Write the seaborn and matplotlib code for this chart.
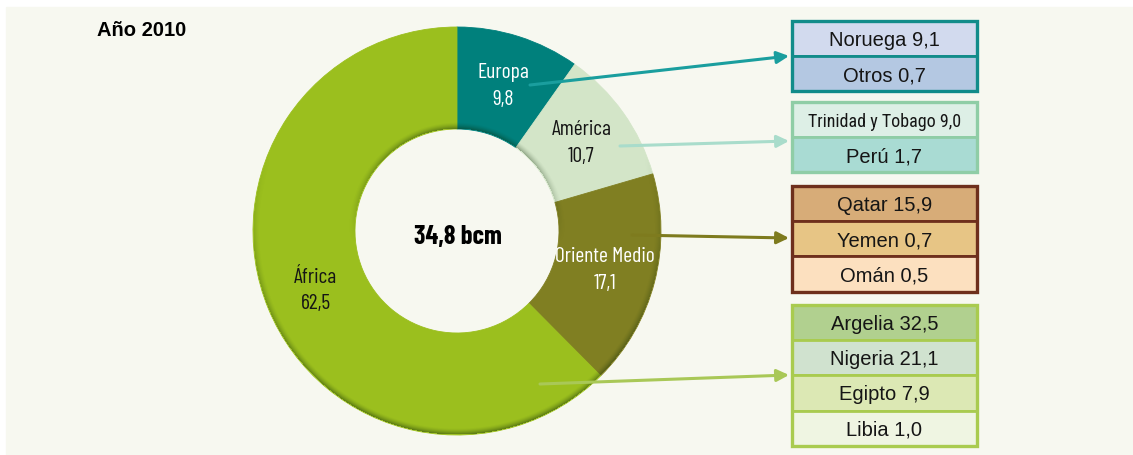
import numpy as np
import seaborn as sns
import matplotlib.pyplot as plt
from matplotlib import font_manager as fm
from matplotlib.patches import Rectangle

# ------------------------------
# DATA
# ------------------------------

year_label = "Año 2010"
total_label = "34,8 bcm"

regions = ["Europa", "América", "Oriente Medio", "África"]
region_values = [9.8, 10.7, 17.1, 62.5]

europa_countries = ["Noruega", "Otros"]
europa_values = [9.1, 0.7]
america_countries = ["Trinidad y Tobago", "Perú"]
america_values = [9.0, 1.7]
oriente_countries = ["Qatar", "Yemen", "Omán"]
oriente_values = [15.9, 0.7, 0.5]
africa_countries = ["Argelia", "Nigeria", "Egipto", "Libia"]
africa_values = [32.5, 21.1, 7.9, 1.0]

# ------------------------------
# STYLE
# ------------------------------

sns.set_theme(style="white")

names = {f.name for f in fm.fontManager.ttflist}
narrow = next((n for n in ["Saira Extra Condensed", "Barlow Condensed", "Roboto Condensed",
                           "Liberation Sans Narrow"] if n in names), "DejaVu Sans")
cond = "Roboto Condensed" if "Roboto Condensed" in names else narrow
plt.rcParams["font.family"] = ["Liberation Sans", "DejaVu Sans"]

region_colors = sns.color_palette(["#00807C", "#D3E5C8", "#807F22", "#9BBF1E"])
label_colors = ["white", "#151515", "white", "#151515"]
arrow_colors = ["#1A9E9E", "#A9DCCB", "#7E7B1E", "#A9C857"]
border_colors = ["#128C8A", "#8FCDA6", "#6E2F1C", "#A9CB4F"]
row_colors = [
    ["#D2DAEE", "#B4C8E2"],
    ["#DDEFE6", "#A9DBD3"],
    ["#D7AC78", "#E7C585", "#FCE0BF"],
    ["#B1D08F", "#D0E2CF", "#DCE8B4", "#EFF5E2"],
]

def fmt(v):
    return f"{v:.1f}".replace(".", ",")

# ------------------------------
# FIGURE
# ------------------------------

W, H = 1133, 456
fig = plt.figure(figsize=(W / 100, H / 100), dpi=100, facecolor="white")
ax = fig.add_axes([0, 0, 1, 1])
ax.add_patch(Rectangle((6, 8), W - 6, H - 8, color="#F7F8F0", zorder=0))

cx, cy, R, r_in = 457, 232, 204, 102

wedges, _ = ax.pie(region_values, colors=region_colors, startangle=-90, counterclock=True,
                   radius=R, center=(cx, cy),
                   wedgeprops=dict(width=R - r_in, linewidth=0.6))
for w in wedges:
    w.set_edgecolor(w.get_facecolor())
    w.set_zorder(2)

# bevel shading on the ring
xs, ys = np.meshgrid(np.arange(W) + 0.5, np.arange(H) + 0.5)
rr = np.hypot(xs - cx, ys - cy)
phi = np.arctan2(-(ys - cy), xs - cx)
outer_t = np.clip((rr - (R - 7)) / 7, 0, 1) ** 1.5
outer_s = np.clip(0.3 - 0.8 * np.sin(phi), 0, 1)
inner_t = np.clip(1 - (rr - r_in) / 7, 0, 1) ** 1.5
inner_s = np.clip(0.1 + 0.9 * np.sin(phi), 0, 1)
alpha = 0.5 * outer_t * outer_s + 0.45 * inner_t * inner_s
alpha[(rr > R - 0.5) | (rr < r_in + 0.5)] = 0
shade = np.zeros((H, W, 4))
shade[..., 0:3] = [0.05, 0.15, 0.02]
shade[..., 3] = alpha
ax.imshow(shade, extent=(0, W, H, 0), origin="upper", zorder=3, interpolation="bilinear")

# wedge labels
r_lab = (R + r_in) / 2
for w, name, val, tc in zip(wedges, regions, region_values, label_colors):
    mid = np.deg2rad((w.theta1 + w.theta2) / 2)
    ax.text(cx + r_lab * np.cos(mid), cy + r_lab * np.sin(mid), f"{name}\n{fmt(val)}",
            ha="center", va="center", color=tc, fontsize=15.5, family=narrow,
            linespacing=1.5, zorder=5)

ax.text(cx + 1, cy + 5, total_label, ha="center", va="center", fontsize=19,
        fontweight="bold", family=narrow, color="black", zorder=5)
ax.text(97, 30, year_label, ha="left", va="center", fontsize=14.5,
        fontweight="bold", color="black", zorder=5)

# ------------------------------
# DETAIL BOXES
# ------------------------------

groups = [
    (europa_countries, europa_values),
    (america_countries, america_values),
    (oriente_countries, oriente_values),
    (africa_countries, africa_values),
]
box_x0, box_x1 = 792, 977
box_tops = [22, 103, 187, 306]
row_h = 35.2
arrows = [((530, 86), (789, 57)), ((620, 147), (789, 142)),
          ((632, 236), (789, 239)), ((540, 385), (789, 376))]

for gi, (countries, vals) in enumerate(groups):
    top = box_tops[gi]
    for ri, (c, v) in enumerate(zip(countries, vals)):
        y0 = top + ri * row_h
        ax.add_patch(Rectangle((box_x0, y0), box_x1 - box_x0, row_h,
                               facecolor=row_colors[gi][ri], edgecolor=border_colors[gi],
                               linewidth=2.0, zorder=4))
        label = f"{c} {fmt(v)}"
        if len(label) > 16:
            ax.text((box_x0 + box_x1) / 2, y0 + row_h / 2 + 1, label, ha="center", va="center",
                    fontsize=13, family=cond, color="#151515", zorder=6)
        else:
            ax.text((box_x0 + box_x1) / 2, y0 + row_h / 2 + 1, label, ha="center", va="center",
                    fontsize=14.5, color="#151515", zorder=6)
    ax.add_patch(Rectangle((box_x0, top), box_x1 - box_x0, row_h * len(countries),
                           fill=False, edgecolor=border_colors[gi], linewidth=2.4, zorder=5))
    (x0, y0), (x1, y1) = arrows[gi]
    ax.annotate("", xy=(x1, y1), xytext=(x0, y0),
                arrowprops=dict(arrowstyle="-|>", color=arrow_colors[gi], lw=2.2,
                                mutation_scale=18, shrinkA=0, shrinkB=0), zorder=6)

ax.set_xlim(0, W)
ax.set_ylim(H, 0)
ax.set_aspect("auto")
ax.axis("off")

fig.savefig("out.png", dpi=100, facecolor="white")
